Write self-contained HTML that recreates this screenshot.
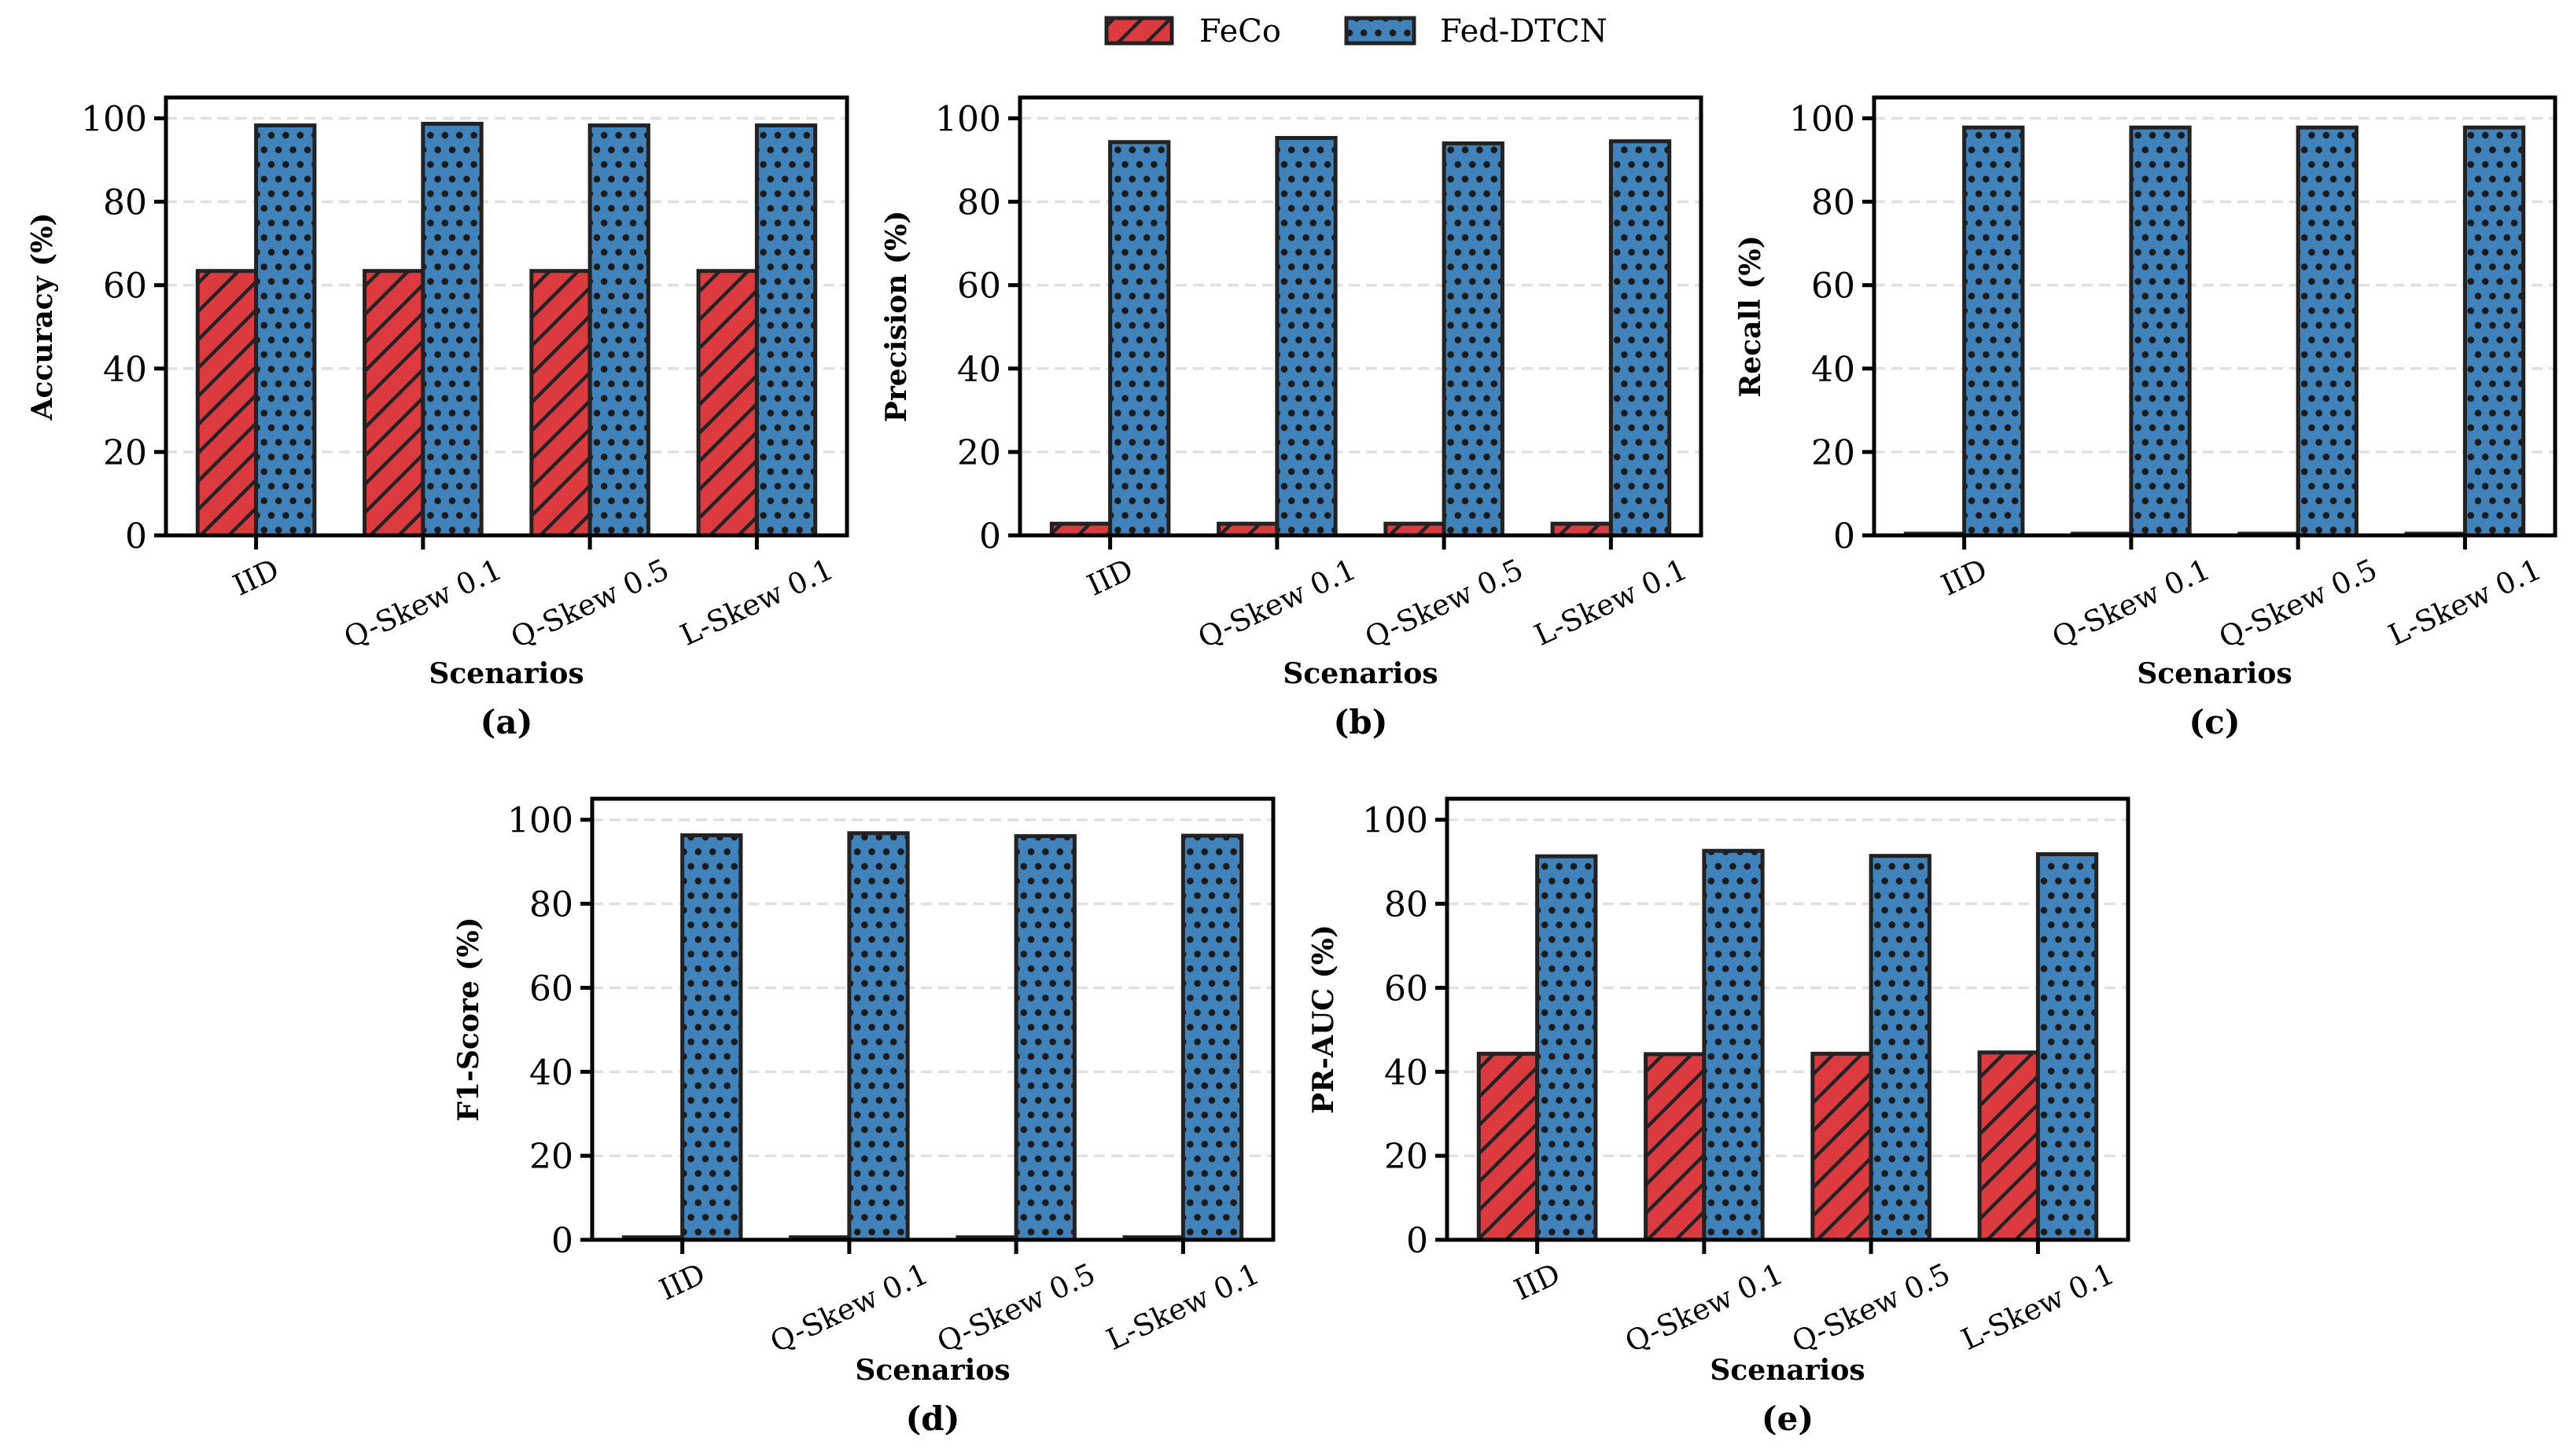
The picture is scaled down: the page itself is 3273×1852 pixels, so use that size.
<!DOCTYPE html>
<html><head><meta charset="utf-8">
<style>
html,body{margin:0;padding:0;background:#fff;}
svg{display:block;font-family:"DejaVu Serif","Liberation Serif",serif;}
</style></head>
<body>
<svg id="fig" width="3273" height="1852" viewBox="0 0 3273 1852" xmlns="http://www.w3.org/2000/svg">
<defs>
<pattern id="hatchRed" patternUnits="userSpaceOnUse" width="36" height="36">
<rect width="36" height="36" fill="#dc3a3e"/>
<path d="M-9,9 L9,-9 M0,36 L36,0 M27,45 L45,27" stroke="#222" stroke-width="4.5"/>
</pattern>
<pattern id="dotBlue" patternUnits="userSpaceOnUse" width="18.4" height="37.2">
<rect width="18.4" height="37.2" fill="#4083bb"/>
<circle cx="4.6" cy="4.6" r="4.3" fill="#1a1a1a"/>
<circle cx="13.8" cy="23.2" r="4.3" fill="#1a1a1a"/>
</pattern>
</defs>
<g id="legend">
<g>
<rect x="1407" y="23" width="83" height="32" fill="url(#hatchRed)" stroke="#222" stroke-width="5"/>
<text x="1525" y="53" font-size="40">FeCo</text>
</g>
<g>
<rect x="1712" y="23" width="86" height="32" fill="url(#dotBlue)" stroke="#222" stroke-width="5"/>
<text x="1831" y="53" font-size="40">Fed-DTCN</text>
</g>
</g>
<g id="panels"></g>
</svg>
<script>
const categories = ["IID", "Q-Skew 0.1", "Q-Skew 0.5", "L-Skew 0.1"];
const yTicks = [0, 20, 40, 60, 80, 100];
const accuracyFeCo = [63.4, 63.4, 63.4, 63.4];
const accuracyFedDTCN = [98.3, 98.7, 98.3, 98.3];
const precisionFeCo = [2.8, 2.8, 2.8, 2.8];
const precisionFedDTCN = [94.3, 95.3, 94.0, 94.5];
const recallFeCo = [0.4, 0.4, 0.4, 0.4];
const recallFedDTCN = [97.8, 97.8, 97.8, 97.8];
const f1FeCo = [0.6, 0.6, 0.6, 0.6];
const f1FedDTCN = [96.3, 96.8, 96.1, 96.2];
const prAucFeCo = [44.3, 44.2, 44.3, 44.6];
const prAucFedDTCN = [91.3, 92.6, 91.4, 91.8];
const yLabels = ["Accuracy (%)", "Precision (%)", "Recall (%)", "F1-Score (%)", "PR-AUC (%)"];
const panelLetters = ["(a)", "(b)", "(c)", "(d)", "(e)"];

const NS = "http://www.w3.org/2000/svg";
const root = document.getElementById("panels");
function mk(tag, attrs, parent) {
  const e = document.createElementNS(NS, tag);
  for (const k in attrs) e.setAttribute(k, attrs[k]);
  parent.appendChild(e);
  return e;
}
const layout = [
  {left: 211, top: 124, bottom: 681, lab: 188, cap: 252},
  {left: 1297, top: 124, bottom: 681, lab: 188, cap: 252},
  {left: 2383, top: 124, bottom: 681, lab: 188, cap: 252},
  {left: 753, top: 1016, bottom: 1577, lab: 178, cap: 242},
  {left: 1840, top: 1016, bottom: 1577, lab: 178, cap: 242}
];
const series = [
  [accuracyFeCo, accuracyFedDTCN],
  [precisionFeCo, precisionFedDTCN],
  [recallFeCo, recallFedDTCN],
  [f1FeCo, f1FedDTCN],
  [prAucFeCo, prAucFedDTCN]
];
const W = 866, XMIN = -0.54, XMAX = 3.54, YMAX = 105, BW = 0.35;
const names = ["accuracy", "precision", "recall", "f1-score", "pr-auc"];

layout.forEach((L, pi) => {
  const g = mk("g", {}, root);
  
  
  const xs = v => L.left + (v - XMIN) / (XMAX - XMIN) * W;
  const ys = v => L.bottom - v / YMAX * (L.bottom - L.top);
  yTicks.forEach(t => {
    if (t === 0) return;
    const gl = mk("line", {x1: L.left, x2: L.left + W, y1: ys(t), y2: ys(t), stroke: "#e0e0e0", "stroke-width": 3.5, "stroke-dasharray": "14 8"}, g);
    
    
  });
  const [red, blue] = series[pi];
  categories.forEach((c, i) => {
    const r = mk("rect", {x: xs(i - BW), y: ys(red[i]), width: xs(BW) - xs(0), height: ys(0) - ys(red[i]), fill: "url(#hatchRed)", stroke: "#222", "stroke-width": 5}, g);
    
    
    const b = mk("rect", {x: xs(i), y: ys(blue[i]), width: xs(BW) - xs(0), height: ys(0) - ys(blue[i]), fill: "url(#dotBlue)", stroke: "#222", "stroke-width": 5}, g);
    
    
  });
  const fr = mk("rect", {x: L.left, y: L.top, width: W, height: L.bottom - L.top, fill: "none", stroke: "#000", "stroke-width": 5}, g);
  
  
  yTicks.forEach(t => {
    mk("line", {x1: L.left - 15, x2: L.left, y1: ys(t), y2: ys(t), stroke: "#000", "stroke-width": 5}, g);
    const tl = mk("text", {x: L.left - 24, y: ys(t) + 16, "font-size": 44, "text-anchor": "end"}, g);
    tl.textContent = t;
    
    
  });
  categories.forEach((c, i) => {
    const x = xs(i);
    mk("line", {x1: x, x2: x, y1: L.bottom, y2: L.bottom + 18, stroke: "#000", "stroke-width": 5}, g);
    const t = mk("text", {"font-size": 37, "text-anchor": "middle", "dominant-baseline": "central"}, g);
    t.textContent = c;
    
    
    const w = t.getComputedTextLength();
    const a = 25 * Math.PI / 180;
    const bh = w * Math.sin(a) + 42 * Math.cos(a);
    const cy = L.bottom + 22 + bh / 2;
    t.setAttribute("x", x);
    t.setAttribute("y", cy);
    t.setAttribute("transform", `rotate(-25 ${x} ${cy})`);
  });
  const cy = (L.top + L.bottom) / 2, lx = L.left - 157;
  const yl = mk("text", {x: lx, y: cy, "font-size": 36, "font-weight": "bold", "text-anchor": "middle", "dominant-baseline": "central", transform: `rotate(-90 ${lx} ${cy})`}, g);
  yl.textContent = yLabels[pi];
  
  
  const xl = mk("text", {x: L.left + W / 2, y: L.bottom + L.lab, "font-size": 36, "font-weight": "bold", "text-anchor": "middle"}, g);
  xl.textContent = "Scenarios";
  
  
  const pl = mk("text", {x: L.left + W / 2, y: L.bottom + L.cap, "font-size": 42, "font-weight": "bold", "text-anchor": "middle"}, g);
  pl.textContent = panelLetters[pi];
  
  
});
</script>
</body></html>
